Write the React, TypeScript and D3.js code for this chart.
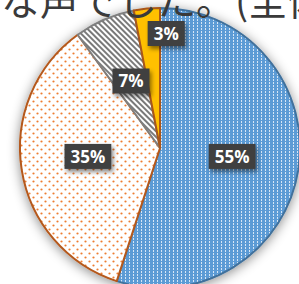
import * as d3 from "d3";
import { useEffect, useRef } from "react";

const categories = ["A", "B", "C", "D"];
const values = [55, 35, 7, 3];
const labels = ["55%", "35%", "7%", "3%"];
const title = "な声でした。(全体";

const fills = ["url(#pBlue)", "url(#pDots)", "url(#pHatch)", "#FFC000"];
const strokes = ["#41719C", "#B4581C", "#7F7F7F", "#A8571A"];

export default function App() {
  const ref = useRef<SVGSVGElement>(null);
  const width = 299;
  const height = 284;

  useEffect(() => {
    const svg = d3.select(ref.current);
    svg.selectAll("*").remove();

    const defs = svg.append("defs");

    // blue with little white vertical dashes
    const pb = defs
      .append("pattern")
      .attr("id", "pBlue")
      .attr("patternUnits", "userSpaceOnUse")
      .attr("width", 4)
      .attr("height", 3);
    pb.append("rect").attr("width", 4).attr("height", 3).attr("fill", "#5B9BD5");
    pb.append("rect").attr("x", 1).attr("y", 0).attr("width", 1).attr("height", 2).attr("fill", "#D6E6F6");

    // white with orange dots
    const pd = defs
      .append("pattern")
      .attr("id", "pDots")
      .attr("patternUnits", "userSpaceOnUse")
      .attr("width", 8)
      .attr("height", 8);
    pd.append("rect").attr("width", 8).attr("height", 8).attr("fill", "#fff");
    pd.append("circle").attr("cx", 1.5).attr("cy", 1.5).attr("r", 1.1).attr("fill", "#ED7D31");
    pd.append("circle").attr("cx", 5.5).attr("cy", 5.5).attr("r", 1.1).attr("fill", "#ED7D31");

    // gray diagonal hatch
    const ph = defs
      .append("pattern")
      .attr("id", "pHatch")
      .attr("patternUnits", "userSpaceOnUse")
      .attr("width", 4)
      .attr("height", 4)
      .attr("patternTransform", "rotate(-45)");
    ph.append("rect").attr("width", 4).attr("height", 4).attr("fill", "#fff");
    ph.append("rect").attr("width", 2).attr("height", 4).attr("fill", "#7A7A7A");

    const sh = defs.append("filter").attr("id", "pieShadow").attr("x", "-20%").attr("y", "-20%").attr("width", "140%").attr("height", "140%");
    sh.append("feDropShadow").attr("dx", 0).attr("dy", 2).attr("stdDeviation", 6).attr("flood-color", "#000").attr("flood-opacity", 0.45);

    const lsh = defs.append("filter").attr("id", "lblShadow").attr("x", "-30%").attr("y", "-30%").attr("width", "160%").attr("height", "160%");
    lsh.append("feDropShadow").attr("dx", 2).attr("dy", 3).attr("stdDeviation", 2).attr("flood-color", "#000").attr("flood-opacity", 0.45);

    const cx = 160;
    const cy = 148;
    const r = 140;

    const pie = d3.pie<number>().sort(null).value((d) => d);
    const arcs = pie(values);
    const arc = d3.arc<d3.PieArcDatum<number>>().innerRadius(0).outerRadius(r);

    const g = svg.append("g").attr("transform", `translate(${cx},${cy})`);

    g.append("g")
      .attr("filter", "url(#pieShadow)")
      .selectAll("path")
      .data(arcs)
      .join("path")
      .attr("d", arc)
      .attr("fill", (d, i) => fills[i])
      .attr("stroke", (d, i) => strokes[i])
      .attr("stroke-width", 2)
      .attr("stroke-linejoin", "round");

    // labels: inside at ~half radius, the small one pushed out
    const labelR = (i: number) => (i === 3 ? 115 : 73);
    const labelDx = (i: number) => (i === 3 ? 17 : 0);
    const labelDy = (i: number) => (i < 2 ? -3 : 0);

    const lg = g
      .selectAll("g.lbl")
      .data(arcs)
      .join("g")
      .attr("class", "lbl")
      .attr("transform", (d, i) => {
        const a = (d.startAngle + d.endAngle) / 2;
        const x = Math.sin(a) * labelR(i) + labelDx(i);
        const y = -Math.cos(a) * labelR(i) + labelDy(i);
        return `translate(${x},${y})`;
      });

    const txt = lg
      .append("text")
      .attr("text-anchor", "middle")
      .attr("dy", "0.36em")
      .attr("font-family", "'Open Sans', sans-serif")
      .attr("font-weight", 700)
      .attr("font-size", 17)
      .attr("fill", "#fff")
      .text((d, i) => labels[i]);

    txt.each(function () {
      const t = this as SVGTextElement;
      const w = t.getComputedTextLength() + 12;
      const h = 25;
      d3.select(t.parentNode as SVGGElement)
        .insert("rect", "text")
        .attr("x", -w / 2)
        .attr("y", -h / 2)
        .attr("width", w)
        .attr("height", h)
        .attr("fill", "#3F3F3F")
        .attr("filter", "url(#lblShadow)");
    });

    svg
      .append("text")
      .attr("x", 1)
      .attr("y", 15)
      .attr("font-family", "'Noto Sans CJK JP', sans-serif")
      .attr("font-size", 39)
      .attr("fill", "#3A3A3A")
      .text(title);
  }, []);

  return (
    <div style={{ position: "absolute", left: 0, top: 0 }}>
      <svg ref={ref} width={width} height={height} data-cats={categories.join(",")}></svg>
    </div>
  );
}
